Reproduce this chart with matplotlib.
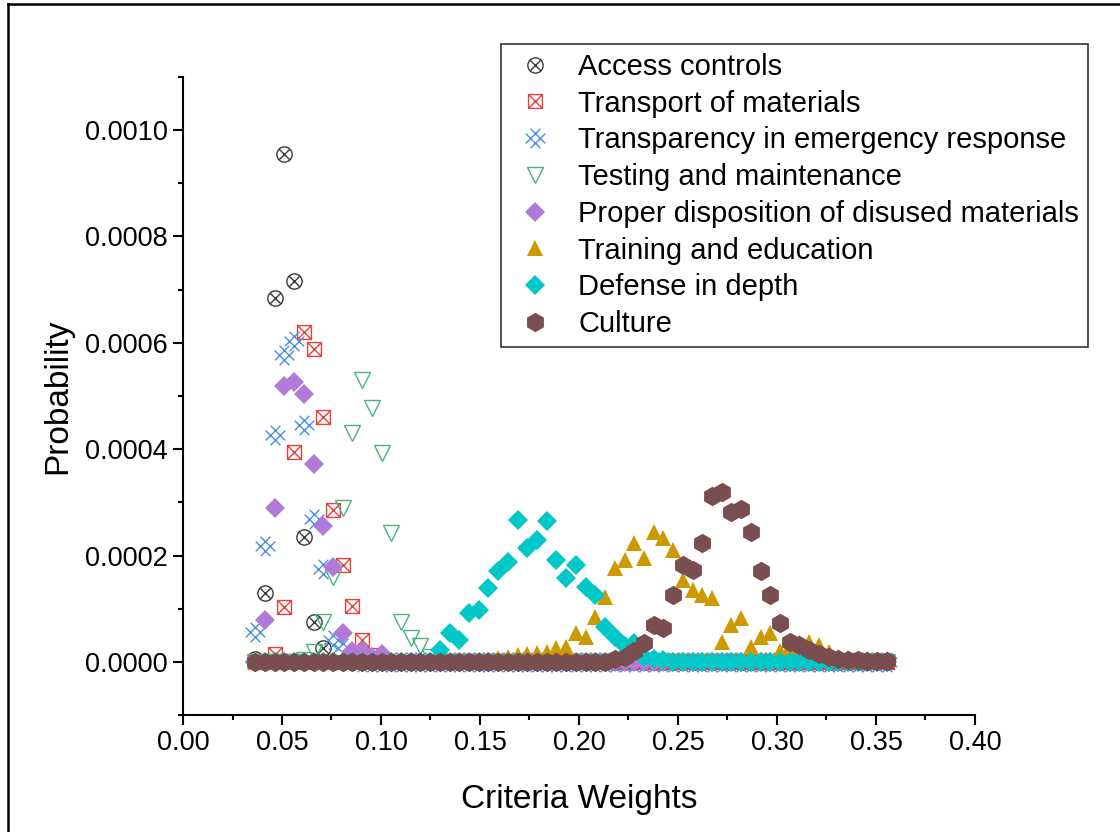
import numpy as np
import matplotlib
matplotlib.use("Agg")
import matplotlib.pyplot as plt
from matplotlib.path import Path
from matplotlib.lines import Line2D
from matplotlib.ticker import MultipleLocator, FormatStrFormatter

plt.rcParams["font.family"] = ["Liberation Sans", "DejaVu Sans"]

# ---------------------------------------------------------
# Data (probabilities in units of 1e-4), 66 weight bins
# ---------------------------------------------------------

weights = np.linspace(0.0365, 0.3555, 66)

access_controls = [0.05, 1.30, 6.85, 9.55, 7.17, 2.34, 0.75, 0.26] + [0] * 58
transport = [0, 0, 0.15, 1.04, 3.95, 6.20, 5.89, 4.60, 2.86, 1.83, 1.05, 0.41,
             0.12] + [0] * 53
transparency = [0.57, 2.17, 4.26, 5.78, 6.03, 4.46, 2.69, 1.75, 0.41, 0.26,
                0.08] + [0] * 55
testing = [0, 0, 0, 0, 0, 0.04, 0.19, 0.75, 1.60, 2.90, 4.31, 5.30, 4.77, 3.93,
           2.42, 0.75, 0.45, 0.30, 0.10] + [0] * 47
disposition = [0, 0.79, 2.90, 5.18, 5.27, 5.03, 3.73, 2.56, 1.79, 0.55, 0.20,
               0.20, 0.10, 0.15] + [0] * 52
training = [0] * 22 + [0.02, 0.03, 0.05, 0.08, 0.10, 0.12, 0.15, 0.17,
                       0.19, 0.26, 0.28, 0.55, 0.47, 0.85, 1.22, 1.77, 1.92,
                       2.24, 1.96, 2.45, 2.33, 2.11, 1.54, 1.36, 1.26, 1.21,
                       0.38, 0.70, 0.83, 0.28, 0.47, 0.55, 0.20, 0.30, 0.35,
                       0.38, 0.32, 0.19, 0.10, 0.08, 0.06, 0.05, 0.04, 0.03]
defense = [0] * 19 + [0.23, 0.55, 0.41, 0.92, 0.98, 1.39, 1.70, 1.88, 2.67,
                      2.15, 2.30, 2.64, 1.92, 1.58, 1.83, 1.41, 1.26, 0.66,
                      0.47, 0.30, 0.36, 0.10, 0.05, 0.03] + [0] * 23
culture = [0] * 37 + [0.05, 0.10, 0.20, 0.35, 0.70, 0.64, 1.26, 1.83, 1.73,
                      2.24, 3.11, 3.20, 2.82, 2.88, 2.45, 1.71, 1.26, 0.73,
                      0.38, 0.32, 0.23, 0.15, 0.10, 0.06, 0.04, 0.03, 0.02,
                      0.01, 0.01]

labels = [
    "Access controls",
    "Transport of materials",
    "Transparency in emergency response",
    "Testing and maintenance",
    "Proper disposition of disused materials",
    "Training and education",
    "Defense in depth",
    "Culture",
]

# ---------------------------------------------------------
# Custom marker shapes
# ---------------------------------------------------------

d = 0.7071
cross = Path([(-d, -d), (d, d), (-d, d), (d, -d)],
             [Path.MOVETO, Path.LINETO, Path.MOVETO, Path.LINETO])
circle_x = Path.make_compound_path(Path.unit_circle(), cross)

square = Path([(-1, -1), (1, -1), (1, 1), (-1, 1), (-1, -1)],
              [Path.MOVETO] + [Path.LINETO] * 3 + [Path.CLOSEPOLY])
diag = Path([(-1, -1), (1, 1), (-1, 1), (1, -1)],
            [Path.MOVETO, Path.LINETO, Path.MOVETO, Path.LINETO])
square_x = Path.make_compound_path(square, diag)

hatch = Path(
    [(-1, -0.5), (0.5, 1), (-0.5, -1), (1, 0.5),
     (-0.5, 1), (1, -0.5), (-1, 0.5), (0.5, -1)],
    [Path.MOVETO, Path.LINETO] * 4,
)

styles = [
    dict(marker=circle_x, color="#3a3a3a", ms=11, mfc="none", mew=1.0),
    dict(marker=square_x, color="#e8413c", ms=10, mfc="none", mew=1.0),
    dict(marker=hatch, color="#4a8fe0", ms=14, mfc="none", mew=1.0),
    dict(marker="v", color="#4cb47a", ms=12, mfc="none", mew=1.0),
    dict(marker="D", color="#b07ad8", ms=10.5, mew=0),
    dict(marker="^", color="#cc9900", ms=12, mew=0),
    dict(marker="D", color="#00c8c8", ms=10.5, mew=0),
    dict(marker="h", color="#7a4e4e", ms=14, mew=0),
]

series = [access_controls, transport, transparency, testing, disposition,
          training, defense, culture]

# ---------------------------------------------------------
# Plot
# ---------------------------------------------------------

fig = plt.figure(figsize=(11.2, 8.32), dpi=100)
ax = fig.add_axes([0.1634, 0.1406, 0.7071, 0.7669])

for values, label, st in zip(series, labels, styles):
    ax.plot(weights, np.array(values) * 1e-4, linestyle="none",
            label=label, **st)

ax.set_xlim(0, 0.40)
ax.set_ylim(-0.0001, 0.0011)
ax.xaxis.set_major_locator(MultipleLocator(0.05))
ax.xaxis.set_minor_locator(MultipleLocator(0.025))
ax.yaxis.set_major_locator(MultipleLocator(0.0002))
ax.yaxis.set_minor_locator(MultipleLocator(0.0001))
ax.xaxis.set_major_formatter(FormatStrFormatter("%.2f"))
ax.yaxis.set_major_formatter(FormatStrFormatter("%.4f"))

for side in ["top", "right"]:
    ax.spines[side].set_visible(False)
for side in ["left", "bottom"]:
    ax.spines[side].set_linewidth(1.5)

ax.tick_params(which="major", direction="out", length=7.5, width=1.5,
               labelsize=19.5)
ax.tick_params(which="minor", direction="out", length=3.5, width=1.5)

ax.set_xlabel("Criteria Weights", fontsize=24, labelpad=20)
ax.set_ylabel("Probability", fontsize=24, labelpad=8)

leg = ax.legend(loc="upper left", bbox_to_anchor=(0.4473, 0.9471),
                bbox_transform=fig.transFigure, fontsize=21,
                frameon=True, fancybox=False, borderaxespad=0,
                labelspacing=0.3, handletextpad=0.6, borderpad=0.3,
                handlelength=1.75)
leg.get_frame().set_edgecolor("black")
leg.get_frame().set_linewidth(1.2)

# border lines on the left and top of the figure
fig.add_artist(Line2D([0.0071, 0.0071], [0.0, 0.9952],
                      transform=fig.transFigure, color="black", lw=1.8))
fig.add_artist(Line2D([0.0071, 1.0], [0.9952, 0.9952],
                      transform=fig.transFigure, color="black", lw=1.8))

fig.savefig("out.png", dpi=100)
